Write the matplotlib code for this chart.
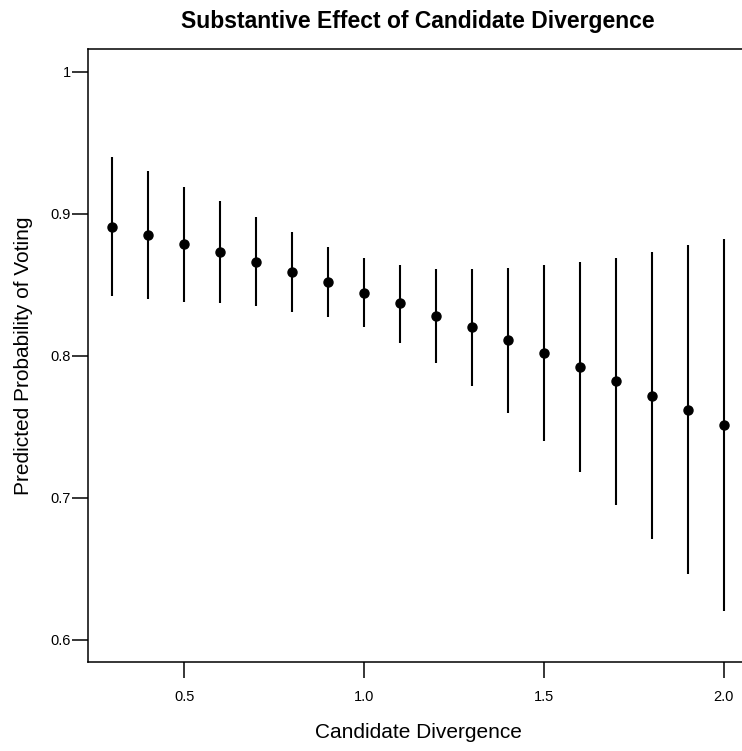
import matplotlib
matplotlib.use("Agg")
from matplotlib import pyplot as plt

plt.rcParams['font.family'] = ['Liberation Sans', 'DejaVu Sans']

# candidate divergence values and simulated predicted probabilities
divergence = [0.3, 0.4, 0.5, 0.6, 0.7, 0.8, 0.9, 1.0, 1.1, 1.2,
              1.3, 1.4, 1.5, 1.6, 1.7, 1.8, 1.9, 2.0]
prob_mean = [0.891, 0.885, 0.879, 0.873, 0.866, 0.859, 0.852, 0.844, 0.837, 0.828,
             0.820, 0.811, 0.802, 0.792, 0.782, 0.772, 0.762, 0.751]
prob_low = [0.842, 0.840, 0.838, 0.837, 0.835, 0.831, 0.827, 0.820, 0.809, 0.795,
            0.779, 0.760, 0.740, 0.718, 0.695, 0.671, 0.646, 0.620]
prob_high = [0.940, 0.930, 0.919, 0.909, 0.898, 0.887, 0.877, 0.869, 0.864, 0.861,
             0.861, 0.862, 0.864, 0.866, 0.869, 0.873, 0.878, 0.882]

x_ticks = [0.5, 1.0, 1.5, 2.0]
x_tick_labels = ["0.5", "1.0", "1.5", "2.0"]
y_ticks = [0.6, 0.7, 0.8, 0.9, 1.0]
y_tick_labels = ["0.6", "0.7", "0.8", "0.9", "1"]

fig = plt.figure(figsize=(7.42, 7.51), dpi=100)
ax = fig.add_axes([0.1182, 0.1181, 0.8903, 0.8163])

ax.vlines(divergence, prob_low, prob_high, color='black', linewidth=1.5)
ax.plot(divergence, prob_mean, 'o', color='black', markersize=6.5)

ax.set_xlim(0.232, 2.068)
ax.set_ylim(0.584, 1.016)

ax.set_xticks(x_ticks)
ax.set_xticklabels(x_tick_labels)
ax.set_yticks(y_ticks)
ax.set_yticklabels(y_tick_labels)

ax.tick_params(axis='both', length=11.5, width=1.1, labelsize=10.5, colors='black')
ax.tick_params(axis='x', pad=8.5)
ax.tick_params(axis='y', pad=0.5)

for side in ['left', 'bottom', 'top', 'right']:
	ax.spines[side].set_linewidth(1.1)

fig.text(0.5633, 0.972, "Substantive Effect of Candidate Divergence",
         ha='center', va='center', fontsize=16.5, fontweight='bold')
fig.text(0.5633, 0.024, "Candidate Divergence", ha='center', va='center', fontsize=15)
fig.text(0.031, 0.5262, "Predicted Probability of Voting", ha='center', va='center',
         fontsize=15, rotation=90)

fig.savefig("out.png", dpi=100)
